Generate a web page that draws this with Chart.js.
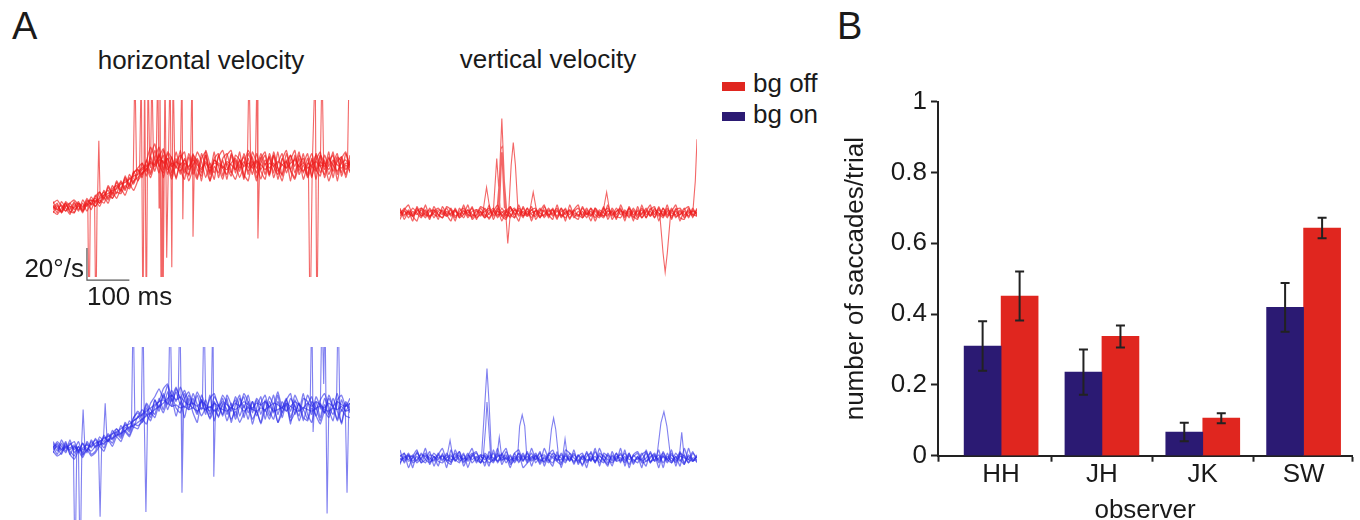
<!DOCTYPE html>
<html>
<head>
<meta charset="utf-8">
<script src="https://cdn.jsdelivr.net/npm/chart.js@4.4.0/dist/chart.umd.min.js"></script>
<style>
  html, body { margin:0; padding:0; background:#fff; }
  body { width:1360px; height:520px; position:relative; overflow:hidden; font-family:"Liberation Sans", Arial, sans-serif; color:#1a1a1a; }
  .txt { position:absolute; font-size:26px; line-height:26px; white-space:nowrap; }
  .panel { position:absolute; font-size:38px; line-height:38px; }
  .sw { position:absolute; width:23px; height:9px; }
  canvas { position:absolute; }
</style>
</head>
<body>
<div class="panel" style="left:12px; top:7px;">A</div>
<div class="panel" style="left:837px; top:7px;">B</div>
<div class="txt" style="left:61px; top:47px; width:280px; text-align:center;">horizontal velocity</div>
<div class="txt" style="left:408px; top:46px; width:280px; text-align:center;">vertical velocity</div>
<div class="sw" style="left:722px; top:82px; background:#e0261f;"></div>
<div class="txt" style="left:753px; top:70px;">bg off</div>
<div class="sw" style="left:722px; top:112px; background:#2b1a73;"></div>
<div class="txt" style="left:753px; top:101px;">bg on</div>

<canvas id="rh" width="380" height="225" style="left:0; top:90px;"></canvas>
<canvas id="bh" width="380" height="183" style="left:0; top:337px;"></canvas>
<canvas id="rv" width="340" height="225" style="left:380px; top:90px;"></canvas>
<canvas id="bv" width="340" height="183" style="left:380px; top:337px;"></canvas>
<canvas id="bars" width="540" height="460" style="left:820px; top:60px;"></canvas>

<script>
// ---------- Panel B data ----------
const categories = ['HH', 'JH', 'JK', 'SW'];
const bgOn     = [0.310, 0.236, 0.067, 0.419];
const bgOnErr  = [0.070, 0.064, 0.026, 0.069];
const bgOff    = [0.451, 0.337, 0.106, 0.643];
const bgOffErr = [0.069, 0.031, 0.014, 0.029];
const xTickVals = [0.374, 1, 1.5, 2, 2.5, 3, 3.5, 4, 4.48];
const yTickLabels = ['0', '0.2', '0.4', '0.6', '0.8', '1'];

// ---------- Panel A data (velocity in deg/s, time in ms) ----------
const tMs = [0,10,20,30,40,50,60,70,80,90,100,110,120,130,140,150,160,170,180,190,200,210,220,230,240,250,260,270,280,290,300,310,320,330,340,350,360,370,380,390,400,410,420,430,440,450,460,470,480,490,500,510,520,530,540,550,560,570,580,590,600,610,620,630,640,650,660,670,680,690,700];

// horizontal velocity, bg off
const rh1 = [2,-3,4,0,-4,3,-2,5,1,7, 3,10,5,13,8,16,10,20,14,23, 17,28,20,32,23,34,19,31,22,35, 24,18,32,21,30,17,33,22,35,19, 30,18,33,24,35,19,31,21,34,23, 18,32,22,35,20,30,17,33,23,34, 21,31,18,33,24,35,19,31,22,34, 26];
const rh2 = [-3,1,-2,4,1,-3,3,0,6,2, 8,3,11,6,14,9,17,12,21,16, 24,19,30,22,36,26,33,21,32,18, 31,35,20,32,19,34,25,17,31,34, 20,33,36,22,30,18,34,27,17,31, 35,21,33,18,30,36,24,19,33,28, 34,20,30,35,19,29,33,17,31,35, 22];
const rh3 = [4,-1,-2,3,-3,1,4,-2,4,5, 1,7,10,5,12,14,11,18,13,22, 24,21,29,38,31,22,36,26,18,28, 33,27,17,25,35,29,19,28,22,32, 36,26,20,30,23,34,25,32,19,28, 33,21,35,25,17,28,33,22,31,18, 27,34,24,20,33,26,35,21,32,19, 30];
const rh4 = [0,3,-3,2,-1,4,-1,3,-2,4, 6,3,8,11,6,13,16,11,19,15, 22,25,27,21,31,38,24,34,27,19, 28,22,34,25,18,31,35,21,30,26, 18,28,22,33,30,21,17,29,25,34, 27,32,19,28,34,22,30,36,21,27, 20,30,24,33,28,17,25,32,29,21, 33];
const rh5 = [-2,-4,0,3,-2,-3,2,-3,3,-1, 5,1,7,3,10,6,12,8,15,11, 17,21,25,19,28,32,37,27,20,31, 21,31,25,34,24,20,33,17,26,22, 31,34,23,18,27,32,21,35,28,18, 28,20,33,25,21,34,23,18,27,31, 19,26,33,22,30,21,28,34,20,27, 23];
const rh6 = [3,5,1,-2,3,5,2,-1,5,2, 7,10,6,14,9,17,12,19,15,22, 25,28,23,33,40,27,22,35,31,25, 36,24,21,33,29,22,36,27,18,33, 25,21,34,28,19,27,36,30,22,32, 21,34,26,21,31,25,33,26,35,22, 31,19,34,26,21,32,23,29,32,24, 29];
const rh7 = [1,-1,2,-2,1,0,3,1,3,5, 4,6,8,9,11,12,15,16,18,20, 21,24,26,28,26,30,29,24,28,26, 23,28,26,30,27,24,29,25,28,27, 25,29,27,24,30,26,28,25,29,27, 24,28,26,29,27,25,28,30,26,28, 25,27,29,26,28,24,30,27,25,28, 27];
const rh8 = [-1,2,-3,1,3,-1,1,-2,2,3, 1,5,3,8,6,10,9,14,12,17, 19,22,24,29,27,33,28,31,26,29, 27,30,24,27,31,25,28,23,30,28, 26,24,28,31,25,29,23,27,30,24, 30,25,28,23,27,29,24,31,26,23, 28,26,23,29,26,31,27,23,28,30, 25];
const rhSpkT = [82,85,88,88, 98,101,104,104, 105,108,111,111, 189,193,197,197, 204,208,212,216,220,224,228,228, 230,233,237,237, 243,247,250,252,255,257,259,264,268,272,276,280,283,287,287, 300,304,306,308,308, 324,328,330,333,333, 458,462,466,466, 477,481,483,487,487, 602,606,611,618,622,626,626, 630,634,638,638, 694,698,700];
const rhSpkV = [3,-80,4,null, 5,-80,6,null, 6,42,7,null, 18,90,22,null, 21,90,-80,90,-80,90,26,null, 25,90,27,null, 26,90,0,90,-80,30,-80,90,-31,30,90,-37,90,27,null, 25,90,-7,26,null, 26,90,-18,26,null, 26,90,26,null, 26,90,-19,26,null, 26,-80,26,90,-80,27,null, 26,90,26,null, 26,90,90];

// vertical velocity, bg off
const rv1 = [1,-2,2,-1,3,-2,0,2,-3,1, -1,3,-2,1,-1,2,-3,1,2,-2, 3,-1,2,-3,1,-2,4,-1,2,-2, 1,-3,2,0,-2,3,-1,2,-3,1, -1,2,-2,3,-1,1,-3,2,0,-2, 3,-1,2,-2,1,-3,2,-1,3,-2, 1,-2,3,-1,2,-3,1,-2,2,-1, 2];
const rv2 = [-2,1,-1,3,0,-3,2,-2,1,3, 0,-2,2,-3,1,3,-1,-2,2,1, -2,2,-1,3,-2,1,-3,2,-1,3, -2,2,-1,3,-3,1,2,-2,3,-1, 2,-3,1,-1,3,-2,2,-1,-3,2, -2,3,-1,1,-3,2,-2,3,-1,1, -3,2,-1,3,-2,1,-1,3,-3,2, -1];
const rv3 = [0,2,-3,1,-1,2,-2,3,-1,-2, 2,-1,3,-2,0,-3,2,-1,-2,3, -1,-3,1,-2,3,-1,-2,2,1,-3, 3,-1,-2,2,1,-2,3,-3,1,2, -3,1,3,-2,2,-1,1,-2,3,-1, 1,-2,-3,2,-1,3,-1,2,-3,3, -1,3,-2,1,-3,2,3,-1,1,-2, 1];
const rv4 = [2,-1,1,-2,2,0,-3,1,2,-1, -3,1,-1,2,-2,1,0,3,-3,-1, 1,3,-2,1,-1,-3,1,3,-2,1, -1,2,3,-2,-1,2,-2,1,-1,-3, 1,-1,-2,1,-3,3,-1,-3,1,3, -1,1,2,-3,3,-1,1,-3,1,-2, 3,-1,1,-3,3,-2,-1,1,-2,3, -2];
const rv5 = [-1,3,0,-2,1,3,-1,-2,0,2, 1,-2,0,2,-3,-1,2,-3,1,0, -3,0,3,-1,0,2,-1,-3,3,0, -2,0,1,-3,2,-1,0,3,-2,0, 2,0,-1,-3,0,-2,3,0,-2,1, 0,-3,1,0,-2,1,-3,0,2,-1, 2,0,-3,2,0,-1,2,-3,0,1, 0];
const rv6 = [3,-4,1,-5,4,-2,5,-3,2,-4, 4,-1,-5,3,-3,5,-2,4,-4,1, -3,5,-4,2,-5,1,4,-3,5,-2, 3,-5,2,-3,4,-1,-4,5,-2,3, -4,2,5,-3,1,-5,3,-2,4,-4, 2,-4,5,-1,3,-5,4,-3,1,5, -3,4,-2,5,-4,3,-5,2,4,-3, 3];
const rv7 = [-4,2,5,-2,-5,3,1,-4,4,-1, -3,4,2,-5,3,-1,5,-4,-1,4, 2,-4,1,5,-2,-4,3,0,-5,4, -1,4,-4,1,5,-3,2,-4,3,-5, 5,-2,-4,4,-1,3,-5,1,-2,5, -4,1,3,-5,4,-2,-4,5,-3,2, 4,-5,3,-2,1,5,-3,-4,3,-1, -2];
const rvSpkT = [195,204,212,212, 220,228,236,236, 228,234,240,246,252,252, 232,238,242,248,254,260,260, 234,240,246,246, 256,262,267,272,278,278, 305,314,322,322, 478,487,495,495, 612,620,625,630,638,638, 690,696,700];
const rvSpkV = [0,16,2,null, 1,34,3,null, 0,20,59,20,0,null, 2,40,42,5,-19,0,null, 0,38,3,null, 0,30,44,30,2,null, 0,13,1,null, 0,13,0,null, 0,-25,-37,-25,0,null, 0,20,46];

// horizontal velocity, bg on
const bh1 = [1,-4,3,-2,5,-3,1,-5,4,0, 6,2,8,4,11,7,14,10,17,13, 20,16,25,19,30,23,33,24,31,20, 29,19,31,22,16,30,21,33,17,27, 20,31,16,27,33,19,29,15,25,32, 18,29,22,33,19,28,15,30,23,34, 21,16,29,19,31,24,17,29,15,27, 24];
const bh2 = [-3,3,-1,4,-4,1,-3,3,-2,4, 0,5,2,8,5,10,7,13,10,17, 19,24,21,28,32,37,31,39,29,35, 27,34,25,31,22,30,25,19,29,23, 31,21,28,18,26,32,22,29,20,28, 33,23,18,29,22,30,34,21,28,17, 27,32,20,28,22,33,26,18,30,23, 28];
const bh3 = [4,0,-4,2,-2,-5,1,-3,3,-4, -2,4,0,6,3,9,6,11,8,15, 14,16,21,17,26,29,37,40,32,38, 31,36,28,25,33,24,30,21,28,19, 27,17,25,30,20,27,18,29,23,16, 29,20,27,16,25,31,19,27,17,24, 18,29,25,17,27,21,31,23,16,28, 22];
const bh4 = [0,4,1,-3,3,-1,4,-4,-1,2, 5,1,7,4,9,12,8,16,12,19, 22,18,27,21,30,25,34,27,33,25, 22,31,35,27,21,33,26,23,32,27, 21,33,27,20,31,25,33,22,30,21, 30,25,33,21,29,23,31,26,20,31, 29,21,32,26,22,31,26,34,23,29, 25];
const bh5 = [-2,-5,-3,3,-4,-7,-2,-6,-1,-5, -3,1,-2,5,1,7,4,10,7,13, 12,18,15,22,19,27,22,30,36,29, 38,31,24,34,27,20,25,18,24,20, 28,24,18,23,16,22,26,18,23,15, 24,18,25,16,22,27,17,22,28,19, 17,25,20,15,23,19,26,17,24,20, 19];
const bh6 = [3,-2,5,0,2,4,-2,3,-3,5, 1,7,4,9,6,12,9,15,11,19, 23,20,28,24,21,31,24,35,26,37, 31,25,33,27,35,29,23,31,34,26, 33,28,23,32,26,34,29,24,31,27, 23,32,27,35,25,30,23,33,27,24, 33,27,24,30,34,26,21,30,33,26, 31];
const bh7 = [1,2,-1,1,0,2,-1,0,2,1, 3,4,6,7,9,10,12,14,15,17, 19,21,23,25,27,29,30,28,26,27, 25,26,24,25,23,25,24,26,23,25, 24,23,25,24,26,23,25,24,23,25, 24,26,23,24,25,23,26,24,23,25, 24,23,25,26,24,23,25,24,26,23, 24];
const bh8 = [-1,1,-2,0,-1,1,-2,-1,0,-2, 1,2,3,5,6,8,9,11,13,14, 16,18,20,22,24,26,28,31,33,30, 32,29,27,28,26,29,27,25,28,26, 29,27,25,28,26,29,27,25,28,27, 29,26,28,27,25,28,26,29,27,25, 28,26,29,27,25,28,26,29,27,26, 28];
const bhSpkT = [48,52,56,56, 60,64,68,68, 67,71,75,75, 107,111,115,115, 119,123,127,127, 185,189,193,193, 208,212,215,219,223,223, 272,276,280,280, 295,299,302,304,308,308, 352,356,360,360, 373,377,379,383,383, 606,610,613,616,616, 630,634,638,641,646,650,650, 668,672,676,676, 689,693,697];
const bhSpkV = [0,-80,1,null, -1,-80,0,null, 0,24,1,null, 4,-43,5,null, 6,28,7,null, 15,90,17,null, 19,90,20,-40,22,null, 28,90,29,null, 30,90,28,-28,27,null, 26,90,25,null, 25,90,-18,25,null, 24,90,10,24,null, 24,90,40,90,-41,24,null, 24,90,24,null, 24,-28,24];

// vertical velocity, bg on
const bv1 = [2,-1,3,-2,1,-3,2,0,-2,3, -1,2,-3,1,4,-2,0,3,-1,-3, 2,-1,3,-2,0,2,-3,1,-1,3, -2,1,-1,3,-3,2,0,-2,3,-1, 1,-3,2,-1,3,-2,4,-1,-3,2, -1,3,-2,1,-4,2,-1,3,-2,0, 3,-2,1,-3,2,-1,4,-3,1,-2, 1];
const bv2 = [-3,1,-1,2,-2,3,-1,-3,1,-1, 2,-2,1,-1,-3,2,-2,1,3,-1, -3,2,0,-2,3,-1,2,-3,1,-2, 3,-1,2,-4,1,-2,3,1,-3,2, -2,2,-1,-4,1,3,-2,1,-1,-4, 2,-1,3,-2,1,-1,-3,2,4,-2, -1,2,-3,1,-2,3,-1,-4,2,-1, -2];
const bv3 = [1,3,-2,0,3,-1,-3,2,1,-2, -3,0,2,-2,1,-1,3,-3,0,2, 1,-3,-1,3,-2,4,-1,0,-2,1, -1,3,-3,1,2,-1,-3,2,0,-3, 3,0,-2,2,-2,1,-3,3,1,-1, -3,0,2,-1,3,-3,1,-2,0,3, -2,0,3,-1,-3,1,-2,2,-3,3, 0];
const bv4 = [-1,0,2,-3,-1,2,1,-1,3,0, 1,-1,-2,3,-2,0,-1,2,-2,1, -1,1,-2,1,2,-3,1,-2,3,-1, 1,-2,1,-1,-2,3,2,-1,-1,1, -1,3,-3,1,-1,-1,1,-3,2,-3, 1,-2,-1,3,-1,1,3,-3,-2,1, 2,-3,1,-1,3,-2,1,0,-1,-2, 2];
const bv5 = [0,-2,1,1,-3,0,3,-2,-1,2, -2,3,-1,0,2,-3,2,-1,1,-3, 3,0,-3,2,-1,0,-2,3,-3,2, -3,0,3,-2,0,-3,1,-1,2,-2, 0,-2,1,3,-3,0,-2,2,-2,3, -2,1,0,-3,2,-2,0,-1,3,-3, 1,-1,2,-2,0,-3,3,1,-3,0, -1];
const bv6 = [5,-3,2,-6,4,-1,6,-4,1,-5, 3,-6,5,-2,4,-5,1,6,-3,2, -5,4,-2,6,-4,1,-6,3,5,-2, 4,-5,2,-3,6,-1,-5,4,-6,3, -2,5,-4,1,-6,4,-3,6,-1,-5, 4,-2,6,-5,3,-4,1,-6,5,-3, 2,-6,4,-1,5,-5,3,-4,6,-2, 1];
const bv7 = [-4,3,-6,1,5,-3,-1,4,-5,2, 6,-2,-4,5,-1,3,-6,2,4,-3, 1,-5,5,-3,2,6,-4,-1,3,-6, -3,6,-1,4,-5,2,5,-2,-4,5, 3,-4,2,-5,4,-2,6,-5,3,1, -5,3,-3,5,-6,2,4,-1,-5,4, -2,5,-6,3,-3,1,-5,6,-1,4, -3];
const bvSpkT = [110,118,125,125, 192,200,205,210,216,216, 196,202,205,209,214,214, 228,234,240,240, 277,282,288,294,299,299, 350,357,362,367,374,374, 383,389,395,395, 605,615,622,629,638,638, 658,664,670];
const bvSpkV = [0,11,0,null, 0,34,56,34,0,null, 0,20,35,20,0,null, 0,13,0,null, 0,20,27,20,0,null, 0,18,25,18,0,null, 0,12,0,null, 0,22,29,20,0,null, 0,16,0];

// scale bar (deg/s and ms)
const scaleBarT0 = 80, scaleBarV0 = -45, scaleBarMs = 100, scaleBarDeg = 20;

// ---------- drawing ----------
Chart.defaults.font.family = '"Liberation Sans", Arial, sans-serif';
Chart.defaults.color = '#1a1a1a';

const RED = 'rgba(238,30,30,0.68)';
const BLUE = 'rgba(44,44,230,0.6)';

function pts(vals) { return vals.map((v, i) => ({ x: tMs[i], y: v })); }
function spk(ts, vs) { return ts.map((t, i) => ({ x: t, y: vs[i] })); }

const scaleBarPlugin = {
  id: 'scaleBar',
  afterDraw(chart) {
    const xs = chart.scales.x, ys = chart.scales.y, ctx = chart.ctx;
    const x0 = xs.getPixelForValue(scaleBarT0);
    const x1 = xs.getPixelForValue(scaleBarT0 + scaleBarMs);
    const y0 = ys.getPixelForValue(scaleBarV0);
    const y1 = ys.getPixelForValue(scaleBarV0 + scaleBarDeg);
    ctx.save();
    ctx.strokeStyle = '#555';
    ctx.lineWidth = 1.2;
    ctx.beginPath();
    ctx.moveTo(x0, y1); ctx.lineTo(x0, y0); ctx.lineTo(x1, y0);
    ctx.stroke();
    ctx.fillStyle = '#1a1a1a';
    ctx.font = '26px "Liberation Sans", Arial, sans-serif';
    ctx.textBaseline = 'alphabetic';
    ctx.textAlign = 'right';
    ctx.fillText(scaleBarDeg + '°/s', x0 - 3, y0 - 3);
    ctx.textAlign = 'left';
    ctx.fillText(scaleBarMs + ' ms', x0, y0 + 25);
    ctx.restore();
  }
};

function traceChart(id, traces, spkT, spkV, color, yMin, yMax, pad, extra) {
  const datasets = traces.map(v => ({
    data: pts(v), borderColor: color, borderWidth: 1.3, pointRadius: 0, tension: 0.15, fill: false
  }));
  datasets.push({
    data: spk(spkT, spkV), borderColor: color, borderWidth: 1.1, pointRadius: 0, tension: 0, fill: false, spanGaps: false
  });
  return new Chart(document.getElementById(id), {
    type: 'line',
    data: { datasets },
    options: {
      responsive: false, animation: false, events: [],
      layout: { padding: pad },
      plugins: { legend: { display: false }, tooltip: { enabled: false } },
      scales: {
        x: { type: 'linear', min: 0, max: 700, display: false },
        y: { type: 'linear', min: yMin, max: yMax, display: false }
      }
    },
    plugins: extra || []
  });
}

traceChart('rh', [rh1, rh2, rh3, rh4, rh5, rh6, rh7, rh8], rhSpkT, rhSpkV, RED, -43.1, 67.5,
  { left: 53, right: 30, top: 10, bottom: 38 }, [scaleBarPlugin]);
traceChart('bh', [bh1, bh2, bh3, bh4, bh5, bh6, bh7, bh8], bhSpkT, bhSpkV, BLUE, -45, 63.1,
  { left: 53, right: 30, top: 10, bottom: 0 });
traceChart('rv', [rv1, rv2, rv3, rv4, rv5, rv6, rv7], rvSpkT, rvSpkV, RED, -40, 70.6,
  { left: 20, right: 23, top: 10, bottom: 38 });
traceChart('bv', [bv1, bv2, bv3, bv4, bv5, bv6, bv7], bvSpkT, bvSpkV, BLUE, -38.75, 69.4,
  { left: 20, right: 23, top: 10, bottom: 0 });

const errorBarPlugin = {
  id: 'errorBars',
  afterDatasetsDraw(chart) {
    const ctx = chart.ctx, ys = chart.scales.y;
    chart.data.datasets.forEach((ds, i) => {
      const meta = chart.getDatasetMeta(i);
      meta.data.forEach((bar, j) => {
        const v = ds.data[j].y, e = ds.err[j];
        const top = ys.getPixelForValue(v + e), bot = ys.getPixelForValue(v - e);
        ctx.save();
        ctx.strokeStyle = '#222';
        ctx.lineWidth = 2;
        ctx.beginPath();
        ctx.moveTo(bar.x, top); ctx.lineTo(bar.x, bot);
        ctx.moveTo(bar.x - 4.5, top); ctx.lineTo(bar.x + 4.5, top);
        ctx.moveTo(bar.x - 4.5, bot); ctx.lineTo(bar.x + 4.5, bot);
        ctx.stroke();
        ctx.restore();
      });
    });
  }
};

new Chart(document.getElementById('bars'), {
  type: 'bar',
  data: {
    datasets: [
      { label: 'bg on', data: categories.map((c, i) => ({ x: i + 1, y: bgOn[i] })), err: bgOnErr,
        backgroundColor: '#2b1a73', borderWidth: 0, barThickness: 37 },
      { label: 'bg off', data: categories.map((c, i) => ({ x: i + 1, y: bgOff[i] })), err: bgOffErr,
        backgroundColor: '#e0261f', borderWidth: 0, barThickness: 37 }
    ]
  },
  options: {
    responsive: false, animation: false, events: [],
    layout: { padding: { left: 0, right: 8, top: 41.7, bottom: 0 } },
    plugins: { legend: { display: false }, tooltip: { enabled: false } },
    scales: {
      x: {
        type: 'linear', min: xTickVals[0], max: xTickVals[xTickVals.length - 1], offset: false,
        afterBuildTicks: s => { s.ticks = xTickVals.map(v => ({ value: v })); },
        afterFit: s => { s.height = 64.3; },
        grid: {
          offset: false, drawOnChartArea: false, drawTicks: true, tickLength: 6, tickWidth: 2,
          tickColor: ctx => (ctx.tick && Number.isInteger(ctx.tick.value)) ? 'rgba(0,0,0,0)' : '#222'
        },
        border: { display: true, color: '#222', width: 2 },
        ticks: {
          autoSkip: false, maxRotation: 0, minRotation: 0, padding: 0, color: '#1a1a1a',
          font: { size: 26, lineHeight: 1 },
          callback: v => Number.isInteger(v) ? categories[v - 1] : ''
        },
        title: { display: true, text: 'observer', color: '#1a1a1a', font: { size: 26, lineHeight: 0.7 }, padding: { top: 0, bottom: 0 } }
      },
      y: {
        min: 0, max: 1,
        afterFit: s => { s.width = 118; },
        ticks: { stepSize: 0.2, padding: 4, color: '#1a1a1a', font: { size: 26 },
                 callback: (v, i) => yTickLabels[i] },
        grid: { drawOnChartArea: false, drawTicks: true, tickLength: 7, tickWidth: 2, tickColor: '#222' },
        border: { display: true, color: '#222', width: 2 },
        title: { display: true, text: 'number of saccades/trial', color: '#1a1a1a', font: { size: 26 }, padding: { top: 20.4, bottom: 0 } }
      }
    }
  },
  plugins: [errorBarPlugin]
});
</script>
</body>
</html>
